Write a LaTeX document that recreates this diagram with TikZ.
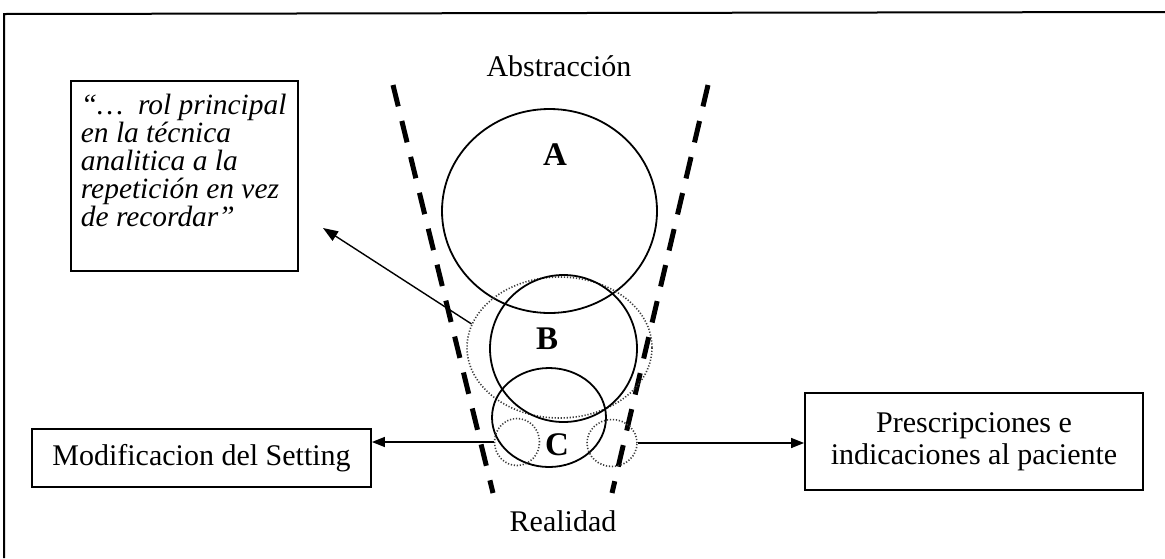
\documentclass[tikz,border=0pt]{standalone}
\usepackage{fontspec}
\setmainfont{Liberation Serif}
\usepackage{tikz}
\usetikzlibrary{arrows.meta,positioning,shapes.geometric,calc}
\definecolor{dotGray}{RGB}{60,60,60}

\begin{document}
\begin{tikzpicture}[x=0.5pt,y=-0.5pt,
    every node/.style={font=\fontsize{15}{16}\selectfont},
    ring/.style={draw, ellipse, inner sep=0pt, line width=0.9pt},
    dotring/.style={draw=dotGray, ellipse, inner sep=0pt, line width=0.8pt, dash pattern=on 0.6pt off 0.9pt},
    textbox/.style={draw, line width=0.9pt, inner sep=0pt, align=center},
    funnel/.style={line width=2.5pt, dash pattern=on 11pt off 7.5pt},
    tip/.style={-{Triangle[length=6.5pt,width=5pt]}, line width=0.7pt}]
    \useasboundingbox (0,0) rectangle (1165,558);
    \draw[line width=1pt] (4,558) -- (4,14) -- (1165,12);

    % funnel between abstraction and reality
    \draw[funnel] (393,85) -- (493,493);
    \draw[funnel] (708,85) -- (612,493);
    \node[anchor=base] (abs) at (559,76) {Abstracción};
    \node[anchor=base] (real) at (563,531) {Realidad};

    % circles
    \node[ring, minimum width=107.5pt, minimum height=102pt] (circA) at (549.5,211) {};
    \node[dotring, minimum width=92.5pt, minimum height=70.5pt] (ringB) at (559.5,347.5) {};
    \node[ring, minimum width=73.5pt, minimum height=73.5pt] (circB) at (563.5,348.5) {};
    \node[ring, minimum width=57pt, minimum height=49.5pt] (circC) at (549,417.5) {};
    \node[dotring, minimum width=22.5pt, minimum height=23.5pt] (dotL) at (517,442) {};
    \node[dotring, minimum width=25pt, minimum height=23.5pt] (dotR) at (612,443) {};
    \node[font=\fontsize{16.5}{18}\selectfont\bfseries] (labA) at (555,155) {A};
    \node[font=\fontsize{16.5}{18}\selectfont\bfseries] (labB) at (547,339) {B};
    \node[font=\fontsize{16.5}{18}\selectfont\bfseries] (labC) at (557,445) {C};

    % boxes
    \node[draw, line width=0.9pt, inner xsep=5pt, inner ysep=6.5pt, anchor=north west,
        font=\fontsize{14.7}{14}\selectfont\itshape] (quote) at (70,80)
        {\parbox[t][82pt][t]{103.5pt}{“\ldots\ \ rol principal\\ en la técnica\\ analitica a la\\ repetición en vez\\ de recordar”}};
    \node[textbox, minimum width=169.5pt, minimum height=29pt] (setting) at (201.5,458) {Modificacion del Setting};
    \node[textbox, minimum width=169pt, minimum height=48.5pt] (presc) at (974,441.5) {Prescripciones e\\indicaciones al paciente};

    % arrows
    \coordinate (quoteTip) at (323,228);
    \draw[tip, -{Triangle[length=7.5pt,width=5.5pt]}] (ringB.165) -- (quoteTip);
    \draw[tip] (dotL.west) -- (dotL.west -| setting.east);
    \draw[tip] (dotR.east) -- (dotR.east -| presc.west);
\end{tikzpicture}
\end{document}
